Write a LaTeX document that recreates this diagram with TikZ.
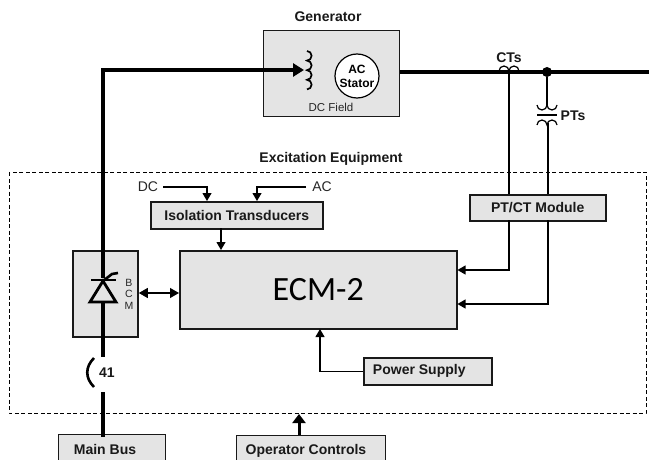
\documentclass[tikz,border=0pt]{standalone}
\usepackage{fontspec}
\setmainfont{Liberation Sans}
\newfontfamily\ecmfont{Carlito}
\usetikzlibrary{arrows.meta}
\definecolor{boxgray}{RGB}{228,228,228}
\tikzset{
  x=1pt,y=-1pt,
  gbox/.style={draw=black!90,line width=1.5pt,fill=boxgray,minimum width=0pt,inner sep=0pt},
  lbl/.style={font=\bfseries\fontsize{14}{16}\selectfont,text=black!90,inner sep=0pt},
  small/.style={font=\fontsize{11.5}{13}\selectfont,text=black!85,inner sep=0pt},
  thin line/.style={line width=1.1pt},
  sig/.style={line width=1.1pt,-{Triangle[length=8pt,width=9pt]}},
  heavy/.style={line width=3.4pt},
  med/.style={line width=2pt},
}
\begin{document}
\begin{tikzpicture}
\useasboundingbox (0,0) rectangle (649,460);
% excitation boundary
\draw[dashed,line width=0.8pt,dash pattern=on 4pt off 2.5pt] (9,172) rectangle (646,413);
% boxes
\node[gbox,line width=1pt,minimum width=136pt,minimum height=86pt,anchor=north west] (gen) at (263,30) {};
\node[gbox,minimum width=277pt,minimum height=78pt,anchor=north west,font=\ecmfont\fontsize{34}{36}\selectfont] (ecm) at (179,250) {ECM-2};
\node[gbox,line width=1.8pt,minimum width=65pt,minimum height=86pt,anchor=north west] (bcm) at (72,250) {};
\node[gbox,minimum width=172pt,minimum height=27pt,anchor=north west,lbl] (iso) at (150,201) {\raisebox{-0.5pt}{Isolation Transducers}};
\node[gbox,minimum width=136pt,minimum height=26pt,anchor=north west,lbl] (ptct) at (469,194) {PT/CT Module};
\node[gbox,minimum width=128pt,minimum height=27pt,anchor=north west,lbl] (psu) at (363,357) {\hspace*{-17pt}\raisebox{-1.5pt}{Power Supply}};
\fill[boxgray] (58,434) rectangle (165,460);
\draw[black!90,line width=1pt] (58,460) -- (58,434) -- (165,434) -- (165,460);
\fill[boxgray] (236,435) rectangle (385,460);
\draw[black!90,line width=1pt] (236,460) -- (236,435) -- (385,435) -- (385,460);
\node[lbl] (mainbus) at (105,449) {Main Bus};
\node[lbl] (opctl) at (306,450.5) {Operator Controls};
% labels
\node[lbl] (gentxt) at (328,17) {Generator};
\node[lbl] (exc) at (331,158.5) {Excitation Equipment};
\node[lbl] (cts) at (509,58) {CTs};
\node[lbl] (pts) at (573,116) {PTs};
\node[lbl] (n41) at (107,373) {41};
\node[small,font=\fontsize{14}{16}\selectfont] (dc) at (148,187) {DC};
\node[small,font=\fontsize{14}{16}\selectfont] (ac) at (322,187) {AC};
\node[small] (dcf) at (331,107) {DC Field};
\node[small,align=center,font=\fontsize{10.5}{11.5}\selectfont] (bcmt) at (129,294) {B\\C\\M};
% stator
\node[circle,draw=black,line width=1.2pt,fill=white,minimum size=44pt,inner sep=0pt,align=center,font=\bfseries\fontsize{12}{14}\selectfont] (stator) at (357,76) {AC\\Stator};
% field winding
\coordinate (fld) at (304,70);
\draw[line width=1.7pt] (307,51) arc (90:-90:4.6pt and 4.8pt) arc (90:-90:4.6pt and 4.8pt) arc (90:-90:4.6pt and 4.8pt) arc (90:-90:4.6pt and 4.8pt);
% field line
\coordinate (cor) at (103,70);
\coordinate (thytop) at (103,278);
\draw[heavy,-{Triangle[length=11pt,width=13pt]},line join=miter] (thytop) -- (cor) -- (fld);
% thyristor
\draw[line width=2.8pt,line join=miter] (90,302) -- (103,281) -- (116,302) -- cycle;
\draw[line width=2.6pt] (91,280) -- (116,280);
\draw[line width=2.6pt] (103,281) -- (112,274) -- (118,273);
\coordinate (thybot) at (103,303);
\coordinate (brk1) at (103,357);
\coordinate (brk2) at (103,392);
\coordinate (busb) at (103,437);
\draw[heavy] (thybot) -- (brk1);
\draw[heavy] (brk2) -- (busb);
\draw[line width=2.6pt] (94,358) .. controls (85,367) and (85,378) .. (94,387);
% bus
\coordinate (busr) at (649,72);
\draw[heavy] (gen.east |- busr) -- (busr);
\node[circle,fill=black,minimum size=10pt,inner sep=0pt] (dot) at (547,72) {};
% CT
\draw[line width=1.2pt] (499,71) arc (180:0:5pt and 5pt) arc (180:0:5pt and 5pt);
\coordinate (ct) at (509,72);
\draw[med] (ct) -- (ct |- ptct.north);
% PT
\coordinate (pt1) at (547,105);
\coordinate (pt2) at (548,123);
\draw[med] (dot) -- (pt1);
\draw[line width=1.2pt] (537,105) arc (180:360:5pt and 5pt) arc (180:360:5pt and 5pt);
\draw[line width=2pt] (537,115) -- (557,115);
\draw[line width=1.2pt] (537,125) arc (180:0:5pt and 5pt) arc (180:0:5pt and 5pt);
\draw[thin line,line width=1.3pt] (pt2) -- (pt2 |- ptct.north);
% signal lines
\coordinate (dcs) at (163,187);
\coordinate (acs) at (306,187);
\draw[sig] (dcs) -| (207,201);
\draw[sig] (acs) -| (257,201);
\draw[sig] (221,228) -- (221,250);
\draw[sig] (509,220) |- (ecm.east |- 0,270);
\draw[sig] (548,220) |- (ecm.east |- 0,304);
\draw[line width=1.1pt,{Triangle[length=9pt,width=10pt]}-{Triangle[length=9pt,width=10pt]}] (bcm.east |- 0,293) -- (ecm.west |- 0,293);
\draw[sig] (psu.west) -| (320,329);
\draw[line width=3pt,-{Triangle[length=9pt,width=13pt]}] (299,435) -- (299,414);
\end{tikzpicture}
\end{document}
